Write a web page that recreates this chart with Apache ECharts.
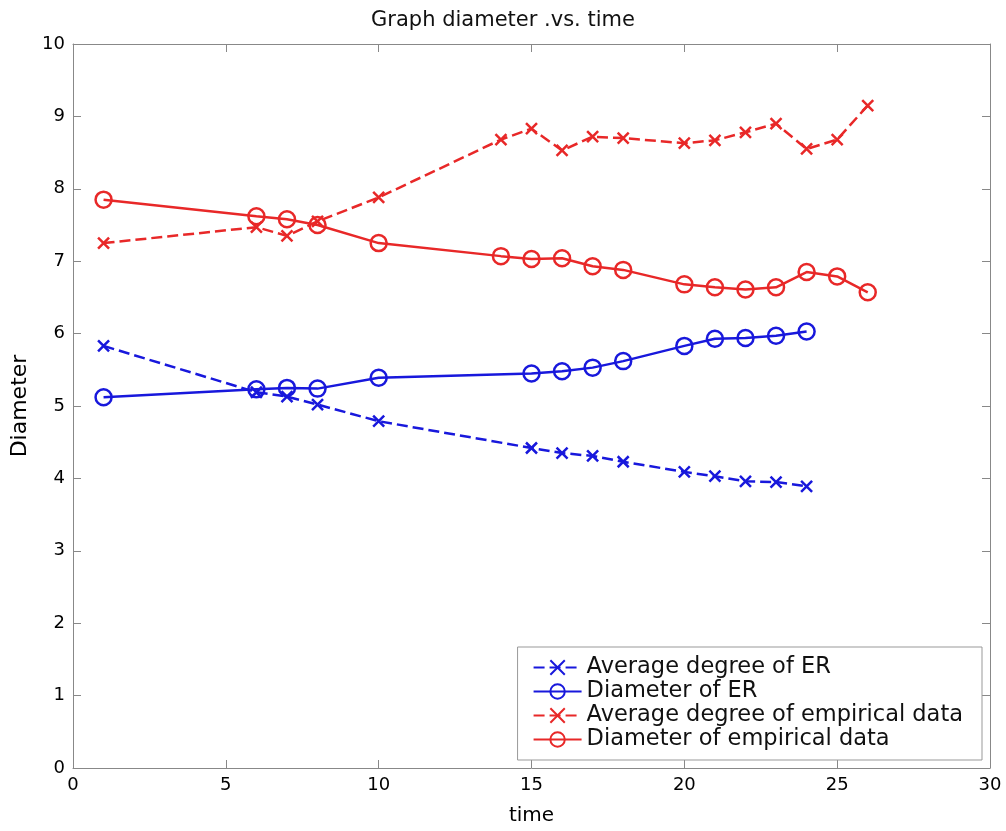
<!DOCTYPE html>
<html>
<head>
<meta charset="utf-8">
<script src="https://cdn.jsdelivr.net/npm/echarts@6/dist/echarts.min.js"></script>
<style>
  html, body { margin: 0; padding: 0; background: #fff; }
  #chart { width: 1006px; height: 831px; }
</style>
</head>
<body>
<div id="chart"></div>
<script>
  // times at which each group was sampled
  var timesER = [1, 6, 7, 8, 10, 15, 16, 17, 18, 20, 21, 22, 23, 24];
  var timesEmp = [1, 6, 7, 8, 10, 14, 15, 16, 17, 18, 20, 21, 22, 23, 24, 25, 26];

  var avgDegreeER = [5.83, 5.19, 5.13, 5.02, 4.79, 4.42, 4.35, 4.31, 4.23, 4.09, 4.03, 3.96, 3.95, 3.89];
  var diameterER = [5.12, 5.23, 5.25, 5.24, 5.39, 5.45, 5.48, 5.53, 5.62, 5.83, 5.93, 5.94, 5.97, 6.03];
  var avgDegreeEmp = [7.25, 7.47, 7.35, 7.55, 7.88, 8.68, 8.83, 8.53, 8.72, 8.70, 8.63, 8.67, 8.78, 8.90, 8.55, 8.68, 9.15];
  var diameterEmp = [7.85, 7.62, 7.58, 7.50, 7.25, 7.07, 7.03, 7.04, 6.93, 6.88, 6.68, 6.64, 6.61, 6.64, 6.85, 6.79, 6.57];

  var seriesNames = ['Average degree of ER', 'Diameter of ER', 'Average degree of empirical data', 'Diameter of empirical data'];

  function pairs(xs, ys) {
    return xs.map(function (x, i) { return [x, ys[i]]; });
  }

  var blue = '#1818dc';
  var red = '#e82828';
  var cross = 'path://M0,0L10,10M10,0L0,10';
  var font = 'DejaVu Sans, sans-serif';

  function makeSeries(name, xs, ys, color, dashed) {
    return {
      name: name,
      type: 'line',
      data: pairs(xs, ys),
      symbol: dashed ? cross : 'circle',
      symbolSize: dashed ? 11 : 16,
      showAllSymbol: true,
      lineStyle: { color: color, width: 2.5, type: dashed ? [11, 5] : 'solid' },
      itemStyle: { color: dashed ? color : 'transparent', borderColor: color, borderWidth: 2.5 },
      emphasis: { disabled: true },
      z: dashed ? 2 : 3
    };
  }

  var axisFont = { color: '#000', fontSize: 18, fontFamily: font };
  var boxLine = { show: true, onZero: false, lineStyle: { color: '#888', width: 1 } };
  var boxTick = { inside: true, length: 8, lineStyle: { color: '#888' } };

  var myChart = echarts.init(document.getElementById('chart'));
  var option = {
    backgroundColor: '#fff',
    animation: false,
    title: {
      text: 'Graph diameter .vs. time',
      left: 'center',
      top: 5,
      textStyle: { color: '#111', fontSize: 21, fontWeight: 'normal', fontFamily: font }
    },
    grid: { left: 73, right: 16, top: 44, bottom: 60 },
    legend: {
      orient: 'vertical',
      right: 24,
      bottom: 71,
      data: seriesNames,
      itemWidth: 48,
      itemHeight: 18,
      itemGap: 1,
      padding: [9, 19, 9, 15],
      borderColor: '#999',
      borderWidth: 1,
      backgroundColor: '#fff',
      textStyle: { color: '#111', fontSize: 22.5, fontFamily: font }
    },
    xAxis: [{
      type: 'value',
      min: 0, max: 30, interval: 5,
      name: 'time',
      nameLocation: 'middle',
      nameGap: 38,
      nameTextStyle: { color: '#000', fontSize: 20, fontFamily: font },
      axisLine: boxLine,
      axisTick: boxTick,
      axisLabel: axisFont,
      splitLine: { show: false }
    }, {
      type: 'value',
      position: 'top',
      min: 0, max: 30, interval: 5,
      axisLine: boxLine,
      axisTick: boxTick,
      axisLabel: { show: false },
      splitLine: { show: false }
    }],
    yAxis: [{
      type: 'value',
      min: 0, max: 10, interval: 1,
      name: 'Diameter',
      nameLocation: 'middle',
      nameGap: 40,
      nameTextStyle: { color: '#000', fontSize: 22, fontFamily: font },
      axisLine: boxLine,
      axisTick: boxTick,
      axisLabel: axisFont,
      splitLine: { show: false }
    }, {
      type: 'value',
      position: 'right',
      min: 0, max: 10, interval: 1,
      axisLine: boxLine,
      axisTick: boxTick,
      axisLabel: { show: false },
      splitLine: { show: false }
    }],
    series: [
      makeSeries(seriesNames[0], timesER, avgDegreeER, blue, true),
      makeSeries(seriesNames[1], timesER, diameterER, blue, false),
      makeSeries(seriesNames[2], timesEmp, avgDegreeEmp, red, true),
      makeSeries(seriesNames[3], timesEmp, diameterEmp, red, false)
    ]
  };
  myChart.setOption(option);
</script>
</body>
</html>
